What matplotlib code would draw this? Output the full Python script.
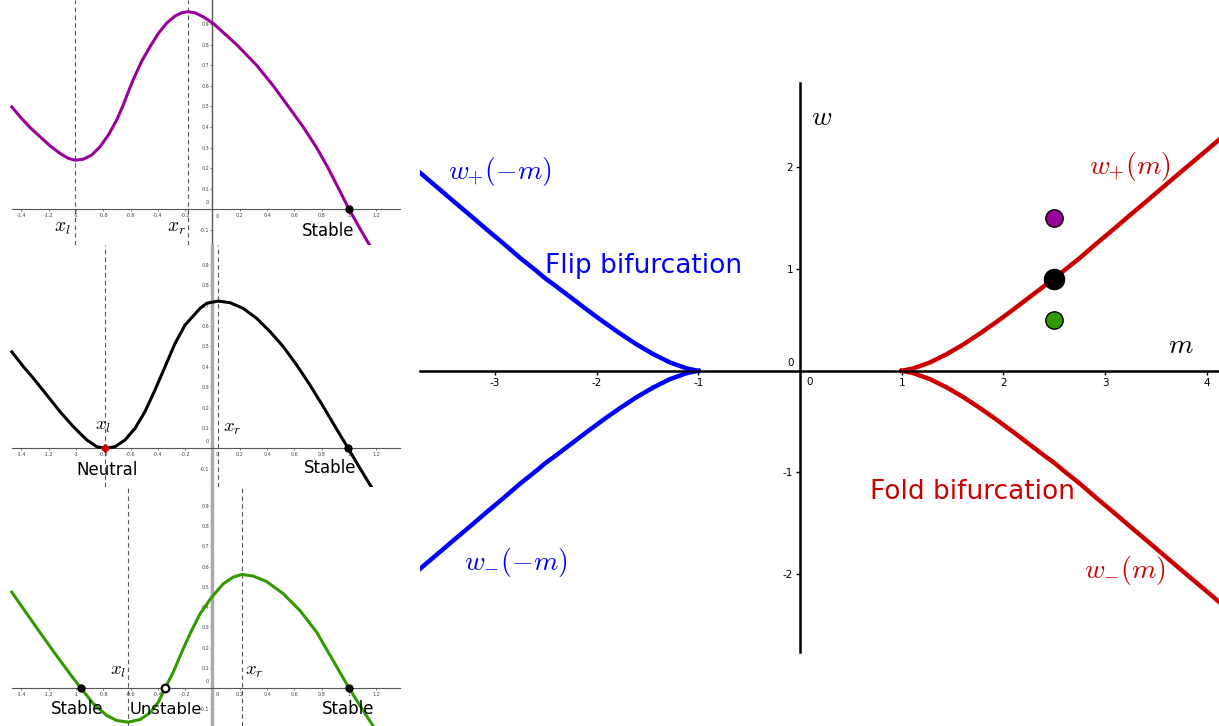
import matplotlib.pyplot as plt

plt.rcParams['mathtext.fontset'] = 'cm'
plt.rcParams['font.family'] = 'DejaVu Sans'

# right panel: upper fold branch w_+(m) for m >= 1 (other branches are its mirror images)
m_branch = [1.0, 1.114, 1.278, 1.443, 1.606, 1.77, 1.934, 2.098, 2.262, 2.426, 2.5, 2.589, 2.753,
            2.917, 3.081, 3.245, 3.409, 3.5, 3.75, 4.0, 4.2]
w_branch = [0.0, 0.023, 0.082, 0.164, 0.259, 0.367, 0.482, 0.603, 0.728, 0.852, 0.905, 0.98, 1.111,
            1.253, 1.39, 1.531, 1.669, 1.747, 1.96, 2.17, 2.34]

dot_m = [2.5, 2.5, 2.5]
dot_w = [1.5, 0.905, 0.5]
dot_colors = ['#990099', 'black', '#339900']
dot_sizes = [12.5, 14.5, 12.5]

right_xticks = [-3, -2, -1, 1, 2, 3, 4]
right_yticks = [-2, -1, 1, 2]

# left panels: the map for the three parameter points
x_top = [-1.469, -1.408, -1.335, -1.262, -1.189, -1.116, -1.055, -1.006, -0.945, -0.884, -0.823,
         -0.762, -0.701, -0.653, -0.616, -0.58, -0.518, -0.457, -0.396, -0.335, -0.274, -0.225,
         -0.182, -0.128, -0.067, 0.006, 0.177, 0.323, 0.445, 0.555, 0.664, 0.762, 0.847, 0.924,
         1.0, 1.085, 1.2]
y_top = [0.498, 0.45, 0.398, 0.353, 0.309, 0.272, 0.248, 0.239, 0.244, 0.264, 0.304,
         0.361, 0.434, 0.507, 0.571, 0.63, 0.72, 0.79, 0.855, 0.905, 0.939, 0.955,
         0.96, 0.955, 0.935, 0.903, 0.8, 0.7, 0.6, 0.5, 0.4, 0.3, 0.2, 0.1,
         0.0, -0.1, -0.23]

x_mid = [-1.469, -1.384, -1.311, -1.213, -1.116, -1.018, -0.92, -0.847, -0.786, -0.713, -0.64,
         -0.567, -0.494, -0.421, -0.347, -0.274, -0.201, -0.091, -0.042, 0.042, 0.128, 0.225,
         0.323, 0.421, 0.518, 0.616, 0.713, 0.811, 0.905, 0.993, 1.079, 1.172]
y_mid = [0.474, 0.401, 0.344, 0.262, 0.18, 0.106, 0.041, 0.008, 0.0, 0.008, 0.041,
         0.098, 0.18, 0.286, 0.401, 0.515, 0.605, 0.687, 0.712, 0.723, 0.715, 0.687,
         0.638, 0.573, 0.499, 0.409, 0.311, 0.204, 0.098, 0.0, -0.098, -0.2]

x_bot = [-1.469, -1.384, -1.298, -1.213, -1.128, -1.043, -0.962, -0.872, -0.774, -0.701, -0.616,
         -0.53, -0.457, -0.396, -0.347, -0.287, -0.225, -0.165, -0.091, -0.006, 0.079, 0.152,
         0.214, 0.298, 0.396, 0.518, 0.64, 0.762, 0.884, 1.0, 1.079, 1.165, 1.2]
y_bot = [0.474, 0.392, 0.309, 0.228, 0.149, 0.071, 0.0, -0.076, -0.134, -0.159, -0.167,
         -0.154, -0.121, -0.068, 0.0, 0.08, 0.178, 0.268, 0.367, 0.449, 0.515, 0.548,
         0.561, 0.553, 0.526, 0.466, 0.383, 0.277, 0.135, 0.0, -0.085, -0.175, -0.21]

left_xticks = [-1.4, -1.2, -1, -0.8, -0.6, -0.4, -0.2, 0.2, 0.4, 0.6, 0.8, 1, 1.2]
left_yticks = [-0.1, 0.1, 0.2, 0.3, 0.4, 0.5, 0.6, 0.7, 0.8, 0.9]


def draw_panel(fig, rect, ylim, xs, ys, color, x_l, x_r, points, labels, yaxis_style):
    ax = fig.add_axes(rect)
    ax.set_xlim(-1.555, 1.445)
    ax.set_ylim(*ylim)
    for s in ['top', 'right']:
        ax.spines[s].set_visible(False)
    ax.spines['bottom'].set_position(('data', 0))
    ax.spines['bottom'].set_bounds(-1.467, 1.372)
    ax.spines['bottom'].set_color('#555555')
    ax.spines['bottom'].set_linewidth(0.8)
    ax.spines['left'].set_position(('data', 0))
    ax.spines['left'].set_color(yaxis_style[0])
    ax.spines['left'].set_linewidth(yaxis_style[1])
    ax.set_xticks(left_xticks)
    ax.set_xticklabels([f'{v:g}' for v in left_xticks])
    ax.set_yticks(left_yticks)
    ax.set_yticklabels([f'{v:g}' for v in left_yticks])
    ax.tick_params(labelsize=3.5, length=1.5, width=0.5, colors='#444444', pad=1)
    ax.text(-0.03, 0.02, '0', fontsize=3.5, color='#444444', ha='right', va='bottom')
    ax.text(0.02, -0.02, '0', fontsize=3.5, color='#444444', ha='left', va='top')
    for xv in [x_l, x_r]:
        ax.axvline(xv, color='#555555', lw=0.8, ls=(0, (4, 3)), zorder=1)
    ax.plot(xs, ys, color=color, lw=2.2, zorder=3, solid_joinstyle='round')
    for px, kind in points:
        if kind == 'stable':
            ax.plot(px, 0, 'o', color='black', ms=5, zorder=5)
        elif kind == 'neutral':
            ax.plot(px, 0, 'D', color='#cc0000', ms=4.5, zorder=5)
        else:
            ax.plot(px, 0, 'o', mfc='white', mec='black', mew=1.6, ms=5.5, zorder=5)
    for tx, ty, txt, size in labels:
        ax.text(tx, ty, txt, fontsize=size, ha='center', va='baseline' if size < 13 else 'center')
    return ax


fig = plt.figure(figsize=(12.19, 7.26), dpi=100)

draw_panel(fig, [0, 0.6625, 0.3363, 0.3375], (-0.173, 1.017), x_top, y_top, '#990099', -1.006, -0.182,
           [(1.0, 'stable')],
           [(-1.10, -0.09, '$x_l$', 14), (-0.26, -0.09, '$x_r$', 14), (0.845, -0.13, 'Stable', 12)],
           ('#555555', 1.0))
draw_panel(fig, [0, 0.3292, 0.3363, 0.3333], (-0.19, 0.998), x_mid, y_mid, 'black', -0.786, 0.042,
           [(-0.786, 'neutral'), (0.993, 'stable')],
           [(-0.80, 0.114, '$x_l$', 13.5), (0.143, 0.10, '$x_r$', 13.5),
            (-0.772, -0.131, 'Neutral', 12), (0.86, -0.123, 'Stable', 12)],
           ('#aaaaaa', 2.5))
draw_panel(fig, [0, 0, 0.3363, 0.3292], (-0.186, 0.992), x_bot, y_bot, '#339900', -0.616, 0.214,
           [(-0.962, 'stable'), (-0.347, 'unstable'), (1.0, 'stable')],
           [(-0.69, 0.09, '$x_l$', 13.5), (0.304, 0.09, '$x_r$', 13.5),
            (-0.99, -0.128, 'Stable', 12), (-0.345, -0.128, 'Unstable', 11.8), (0.99, -0.128, 'Stable', 12)],
           ('#aaaaaa', 2.5))

# bifurcation diagram
ax = fig.add_axes([0.3445, 0.1019, 0.6555, 0.7837])
ax.set_xlim(-3.737, 4.120)
ax.set_ylim(-2.766, 2.83)
for s in ['top', 'right']:
    ax.spines[s].set_visible(False)
for s in ['left', 'bottom']:
    ax.spines[s].set_position(('data', 0))
    ax.spines[s].set_linewidth(1.8)
ax.set_xticks(right_xticks)
ax.set_xticklabels([str(v) for v in right_xticks])
ax.set_yticks(right_yticks)
ax.set_yticklabels([str(v) for v in right_yticks])
ax.tick_params(labelsize=7.5, length=3, width=1, pad=2)
ax.text(0.06, -0.06, '0', fontsize=7.5, ha='left', va='top')
ax.text(-0.06, 0.03, '0', fontsize=7.5, ha='right', va='bottom')

red = '#cc0000'
blue = '#0000ff'
ax.plot(m_branch, w_branch, color=red, lw=3.2, solid_joinstyle='round')
ax.plot(m_branch, [-w for w in w_branch], color=red, lw=3.2, solid_joinstyle='round')
ax.plot([-m for m in m_branch], w_branch, color=blue, lw=3.2, solid_joinstyle='round')
ax.plot([-m for m in m_branch], [-w for w in w_branch], color=blue, lw=3.2, solid_joinstyle='round')

for mv, wv, c, s in zip(dot_m, dot_w, dot_colors, dot_sizes):
    ax.plot(mv, wv, 'o', color=c, mec='black', mew=1.0, ms=s, zorder=5)

ax.text(-2.95, 1.96, '$w_{+}(-m)$', color=blue, fontsize=20, ha='center', va='center')
ax.text(-2.79, -1.89, '$w_{-}(-m)$', color=blue, fontsize=20, ha='center', va='center')
ax.text(3.245, 2.01, '$w_{+}(m)$', color=red, fontsize=20, ha='center', va='center')
ax.text(3.196, -1.96, '$w_{-}(m)$', color=red, fontsize=20, ha='center', va='center')
ax.text(-1.534, 0.958, 'Flip bifurcation', color=blue, fontsize=19, ha='center', va='baseline')
ax.text(1.694, -1.265, 'Fold bifurcation', color=red, fontsize=19, ha='center', va='baseline')
ax.text(0.213, 2.5, '$w$', fontsize=20, ha='center', va='center')
ax.text(3.746, 0.253, '$m$', fontsize=20, ha='center', va='center')

fig.savefig('out.png', dpi=100)
